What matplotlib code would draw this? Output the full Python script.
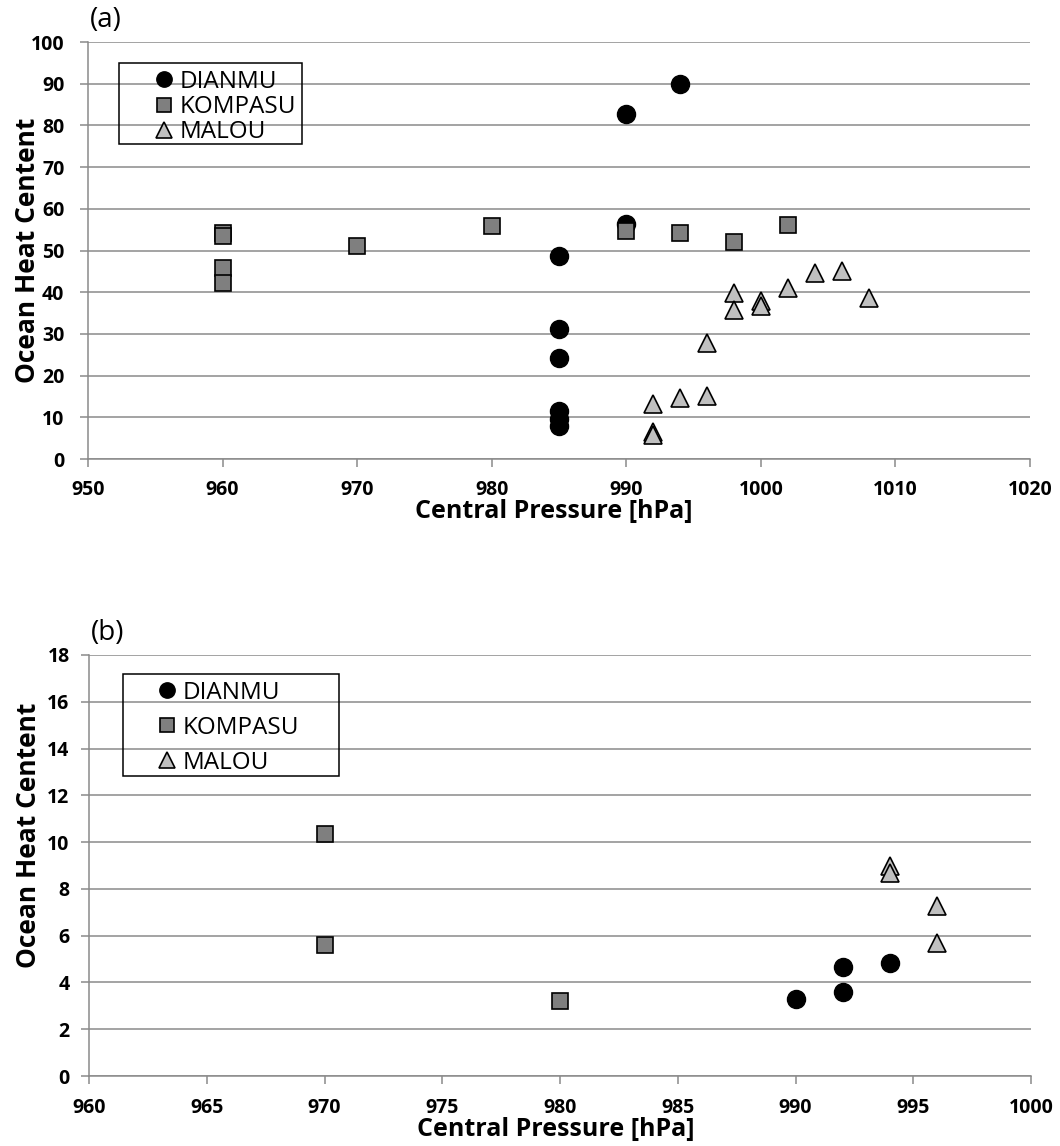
import matplotlib.pyplot as plt
from matplotlib.patches import Rectangle

plt.rcParams['font.family'] = ['Open Sans', 'DejaVu Sans']

# panel (a)
dianmu_a_p = [994, 990, 990, 985, 985, 985, 985, 985, 985]
dianmu_a_v = [90.0, 82.8, 56.3, 48.6, 31.2, 24.2, 11.5, 9.6, 7.8]
kompasu_a_p = [960, 960, 960, 960, 970, 980, 990, 994, 998, 1002]
kompasu_a_v = [54.1, 53.4, 45.8, 42.1, 51.1, 55.8, 54.6, 54.3, 52.0, 56.1]
malou_a_p = [992, 992, 992, 994, 996, 996, 998, 998, 1000, 1000, 1002, 1004, 1006, 1008]
malou_a_v = [13.2, 6.5, 5.8, 14.7, 15.1, 27.8, 39.9, 35.8, 38.0, 36.8, 41.0, 44.7, 45.1, 38.5]

# panel (b)
dianmu_b_p = [990, 992, 992, 994]
dianmu_b_v = [3.28, 4.64, 3.58, 4.84]
kompasu_b_p = [970, 970, 980]
kompasu_b_v = [10.34, 5.58, 3.2]
malou_b_p = [994, 994, 996, 996]
malou_b_v = [9.0, 8.7, 7.25, 5.7]

fig = plt.figure(figsize=(10.6, 11.46), dpi=100)
W, H = 1060, 1146
GRAY = '#8a8a8a'


def fx(px):
    return px / W


def fy(py):
    return 1 - py / H


def make_axes(l, t, r, b):
    return fig.add_axes([fx(l), fy(b), (r - l) / W, (b - t) / H])


def style(ax, xlim, xticks, ylim, yticks, xpad, ypad, xlab_pos, ylab_pos):
    ax.set_xlim(*xlim)
    ax.set_ylim(*ylim)
    ax.set_xticks(xticks)
    ax.set_yticks(yticks)
    ax.grid(axis='y', color=GRAY, lw=1.1)
    ax.set_axisbelow(True)
    for s in ['top', 'right']:
        ax.spines[s].set_visible(False)
    for s in ['left', 'bottom']:
        ax.spines[s].set_color(GRAY)
        ax.spines[s].set_linewidth(1.1)
    ax.tick_params(length=6, width=1.1, color=GRAY, labelsize=14)
    ax.tick_params(axis='x', pad=xpad)
    ax.tick_params(axis='y', pad=ypad)
    for t in ax.get_xticklabels() + ax.get_yticklabels():
        t.set_fontweight('bold')
    ax.set_xlabel('Central Pressure [hPa]', fontsize=18, fontweight='bold')
    ax.set_ylabel('Ocean Heat Centent', fontsize=19, fontweight='bold')
    ax.xaxis.set_label_coords(*xlab_pos)
    ax.yaxis.set_label_coords(*ylab_pos)


def draw(ax, dp, dv, kp, kv, mp, mv):
    ax.plot(dp, dv, 'o', ms=13, mfc='black', mec='black', label='DIANMU', clip_on=False)
    ax.plot(kp, kv, 's', ms=11.5, mfc='#7f7f7f', mec='black', mew=1.2, label='KOMPASU', clip_on=False)
    ax.plot(mp, mv, '^', ms=13, mfc='#c0c0c0', mec='black', mew=1.2, label='MALOU', clip_on=False)


def legend_box(ax, box, anchor, spacing):
    l, t, r, b = box
    fig.patches.append(Rectangle((fx(l), fy(b)), (r - l) / W, (b - t) / H,
                                 transform=fig.transFigure, fill=False,
                                 ec='black', lw=1.1))
    ax.legend(loc='upper left', bbox_to_anchor=(fx(anchor[0]), fy(anchor[1])),
              bbox_transform=fig.transFigure, frameon=False, fontsize=17.5,
              handlelength=0.55, handletextpad=0.4, labelspacing=spacing,
              borderpad=0, borderaxespad=0, markerscale=0.85)


ax1 = make_axes(88, 42, 1030, 459)
draw(ax1, dianmu_a_p, dianmu_a_v, kompasu_a_p, kompasu_a_v, malou_a_p, malou_a_v)
style(ax1, (950, 1020), range(950, 1021, 10), (0, 100), range(0, 101, 10),
      9, 11, (0.494, -0.097), (-0.050, 0.5))
ax1.text(0.002, 1.02, '(a)', transform=ax1.transAxes, fontsize=20, va='bottom', ha='left')
legend_box(ax1, (119, 63, 302, 144), (157, 70), 0.05)

ax2 = make_axes(89, 655, 1031, 1076)
draw(ax2, dianmu_b_p, dianmu_b_v, kompasu_b_p, kompasu_b_v, malou_b_p, malou_b_v)
style(ax2, (960, 1000), range(960, 1001, 5), (0, 18), range(0, 19, 2),
      10, 8, (0.495, -0.097), (-0.050, 0.572))
ax2.text(0.002, 1.02, '(b)', transform=ax2.transAxes, fontsize=20, va='bottom', ha='left')
legend_box(ax2, (123, 674, 339, 776), (160, 681), 0.45)

fig.savefig('out.png', dpi=100, facecolor='white')
